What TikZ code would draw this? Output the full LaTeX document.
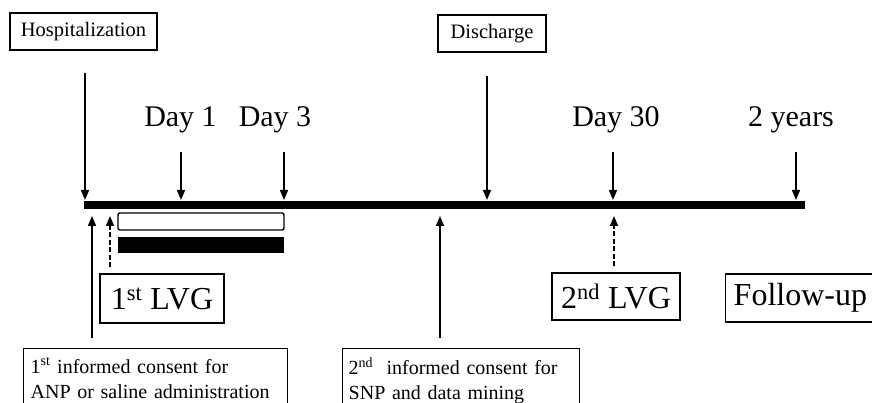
\documentclass[tikz,border=0pt]{standalone}
\usepackage{fontspec}
\setmainfont{Liberation Serif}
\usetikzlibrary{arrows.meta,positioning}
\tikzset{
>={Triangle[length=10pt,width=8pt]},
  lbox/.style={
    rectangle,
    draw=black, line width=1.4pt,
    inner sep=0pt,
    font=\fontsize{20.5}{26}\selectfont},
  bigbox/.style={
    rectangle,
    draw=black, line width=1.4pt,
    inner sep=0pt,
    font=\fontsize{32}{38}\selectfont},
  consent/.style={
    rectangle,
    draw=black, line width=1.4pt,
    anchor=north west, align=left,
    inner ysep=9pt,
    font=\fontsize{20}{25}\selectfont},
  daylabel/.style={anchor=base, inner sep=2pt, font=\fontsize{30}{36}\selectfont},
  pil/.style={->, line width=1.5pt},
  dashpil/.style={pil, dash pattern=on 5pt off 2.5pt},
}

\begin{document}
\begin{tikzpicture}[x=1pt, y=-1pt]
    \useasboundingbox (0,0) rectangle (872,403);
    \clip (0,0) rectangle (872,403);
    % time line
    \fill (84,201) rectangle (805,209);
    \coordinate (t0)  at (85,200);
    \coordinate (d1)  at (181,200);
    \coordinate (d3)  at (284,200);
    \coordinate (dis) at (487,200);
    \coordinate (d30) at (613,200);
    \coordinate (y2)  at (796,200);
    \coordinate (c1)  at (92,216);
    \coordinate (l1)  at (110,216);
    \coordinate (c2)  at (440,216);
    \coordinate (l2)  at (614,216);
    % treatment bars
    \draw[line width=1.4pt, rounded corners=2pt] (118,213) rectangle (284,230);
    \fill (118,237) rectangle (284,253);
    % top labels
    \node[lbox, minimum width=147pt, minimum height=37pt] (hosp)  at (83.5,31.5) {Hospitalization};
    \node[lbox, minimum width=108pt, minimum height=37pt] (disch) at (492,33.5) {Discharge};
    \node[daylabel] (day1)  at (180.5,127) {Day 1};
    \node[daylabel] (day3)  at (275,127)   {Day 3};
    \node[daylabel] (day30) at (616,127)   {Day 30};
    \node[daylabel] (yrs)   at (791,127)   {2 years};
    % bottom labels
    \node[bigbox, minimum width=124pt, minimum height=49pt] (lvg1) at (162,298.5) {1\textsuperscript{st} LVG};
    \node[bigbox, minimum width=128pt, minimum height=47pt] (lvg2) at (616,296.5) {2\textsuperscript{nd} LVG};
    \node[bigbox, anchor=west, inner xsep=8pt, minimum height=48pt] (follow) at (725,298) {Follow-up};
    \node[consent, text width=250pt, inner xsep=7pt] (cons1) at (23,348)
        {1\textsuperscript{st} informed consent for\\ANP or saline administration};
    \node[consent, text width=225pt, inner xsep=6pt] (cons2) at (342,348)
        {2\textsuperscript{nd}\ \ informed consent for\\SNP and data mining};
    % arrows
    \draw[pil, shorten <=22pt] (hosp.south -| t0) -- (t0);
    \draw[pil, shorten <=23pt] (disch.south -| dis) -- (dis);
    \draw[pil, shorten <=16pt] (day1.south -| d1) -- (d1);
    \draw[pil, shorten <=16pt] (day3.south -| d3) -- (d3);
    \draw[pil, shorten <=16pt] (day30.south -| d30) -- (d30);
    \draw[pil, shorten <=16pt] (yrs.south -| y2) -- (y2);
    \draw[pil, shorten <=10pt] (cons1.north -| c1) -- (c1);
    \draw[pil, shorten <=10pt] (cons2.north -| c2) -- (c2);
    \draw[dashpil, shorten <=6pt] (lvg1.north -| l1) -- (l1);
    \draw[dashpil, shorten <=6pt] (lvg2.north -| l2) -- (l2);
\end{tikzpicture}
\end{document}
